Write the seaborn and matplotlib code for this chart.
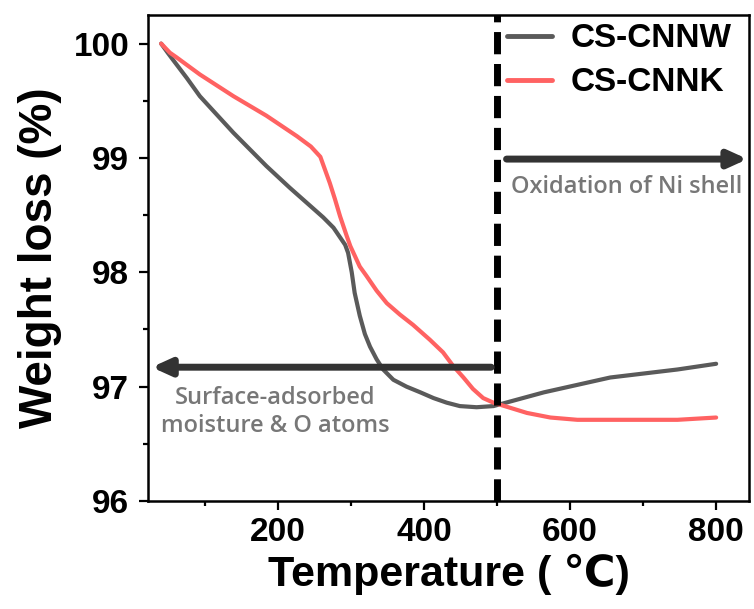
import matplotlib
matplotlib.use("Agg")
import matplotlib.pyplot as plt
import seaborn as sns
import pandas as pd
from matplotlib.ticker import MultipleLocator

# ---- data ----
temp_w = [40, 49, 56, 75, 93, 139, 184, 216, 262, 276, 292, 296, 301, 305, 312, 319,
          326, 335, 344, 358, 376, 395, 413, 431, 449, 472, 495, 564, 655, 747, 800]
weight_w = [100.0, 99.92, 99.86, 99.70, 99.54, 99.22, 98.93, 98.74, 98.48, 98.39,
            98.24, 98.17, 98.00, 97.82, 97.62, 97.46, 97.35, 97.24, 97.15, 97.06,
            97.00, 96.95, 96.90, 96.86, 96.83, 96.82, 96.83, 96.95, 97.08, 97.15, 97.20]
temp_k = [40, 52, 61, 93, 139, 184, 226, 245, 258, 271, 278, 285, 294, 299, 312, 321,
          335, 349, 367, 385, 408, 426, 440, 454, 467, 481, 495, 541, 573, 610, 747, 800]
weight_k = [100.0, 99.92, 99.88, 99.73, 99.54, 99.37, 99.19, 99.10, 99.01, 98.78,
            98.64, 98.49, 98.32, 98.23, 98.05, 97.97, 97.84, 97.73, 97.63, 97.54,
            97.41, 97.30, 97.18, 97.08, 96.98, 96.90, 96.86, 96.77, 96.73, 96.71,
            96.71, 96.73]
series_names = ["CS-CNNW", "CS-CNNK"]
x_ticks = [200, 400, 600, 800]
y_ticks = [96, 97, 98, 99, 100]
divider_temp = 500
label_ox = "Oxidation of Ni shell"
label_surf = "Surface-adsorbed\nmoisture & O atoms"

df = pd.concat([
    pd.DataFrame({"T": temp_w, "W": weight_w, "s": series_names[0]}),
    pd.DataFrame({"T": temp_k, "W": weight_k, "s": series_names[1]}),
])

sns.set_style("ticks")
plt.rcParams["font.family"] = ["Liberation Sans", "DejaVu Sans"]
plt.rcParams["font.weight"] = "bold"
for key in ["text.color", "axes.labelcolor", "xtick.color", "ytick.color",
            "xtick.labelcolor", "ytick.labelcolor"]:
    plt.rcParams[key] = "black"

fig = plt.figure(figsize=(7.54, 6.09), dpi=100)
ax = fig.add_axes([148 / 754, 1 - 501 / 609, 601 / 754, 486 / 609])

palette = {series_names[0]: "#5a5a5a", series_names[1]: "#ff6262"}
sns.lineplot(data=df, x="T", y="W", hue="s", palette=palette, estimator=None,
             sort=False, linewidth=3, ax=ax, legend=True)

ax.set_xlim(22, 845)
ax.set_ylim(96, 100.25)
ax.set_xticks(x_ticks)
ax.set_yticks(y_ticks)
ax.xaxis.set_minor_locator(MultipleLocator(100))
ax.yaxis.set_minor_locator(MultipleLocator(0.5))
ax.tick_params(which="major", length=6.5, width=1.6, direction="out", labelsize=24,
               colors="black")
ax.tick_params(axis="y", which="major", pad=7)
ax.tick_params(axis="x", which="major", pad=5)
ax.tick_params(which="minor", length=3.5, width=1.6, direction="out", colors="black")
for sp in ax.spines.values():
    sp.set_linewidth(1.8)
    sp.set_color("black")
for lbl in ax.get_xticklabels() + ax.get_yticklabels():
    lbl.set_fontweight("bold")

ax.set_xlabel("Temperature ( ℃)", fontsize=31, fontweight="bold", labelpad=4,
              color="black")
ax.set_ylabel("Weight loss (%)", fontsize=33, fontweight="bold", labelpad=8,
              color="black")

ax.axvline(divider_temp, color="black", linewidth=5, linestyle=(0, (3.2, 1.4)))

# arrows
ax.annotate("", xy=(27, 97.17), xytext=(492, 97.17),
            arrowprops=dict(arrowstyle="-|>,head_length=1.1,head_width=0.5",
                            color="#333333", lw=5, shrinkA=0, shrinkB=0))
ax.annotate("", xy=(843, 98.99), xytext=(513, 98.99),
            arrowprops=dict(arrowstyle="-|>,head_length=1.1,head_width=0.5",
                            color="#333333", lw=5, shrinkA=0, shrinkB=0))

ax.text(678, 98.75, label_ox, ha="center", va="center", fontsize=17,
        color="#777777", family=["Open Sans", "DejaVu Sans"], fontweight="semibold")
ax.text(196, 96.78, label_surf, ha="center", va="center", fontsize=17,
        color="#777777", family=["Open Sans", "DejaVu Sans"], fontweight="semibold",
        linespacing=1.2)

leg = ax.legend(loc="upper left", bbox_to_anchor=(0.597, 0.983), frameon=False,
                fontsize=24, handlelength=1.36, handletextpad=0.55, labelspacing=0.39,
                borderaxespad=0, borderpad=0)
for t in leg.get_texts():
    t.set_fontweight("bold")
    t.set_color("black")
for h in leg.get_lines():
    h.set_linewidth(3.5)

fig.savefig("out.png", dpi=100)
